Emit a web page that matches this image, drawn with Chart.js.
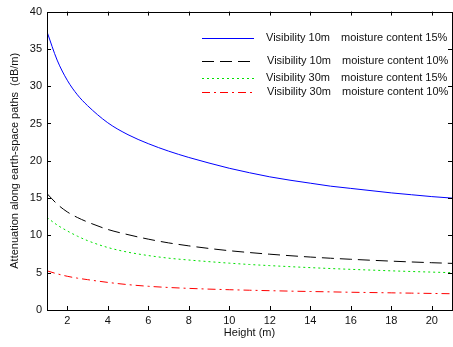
<!DOCTYPE html>
<html>
<head>
<meta charset="utf-8">
<script src="https://cdn.jsdelivr.net/npm/chart.js@4/dist/chart.umd.min.js"></script>
<style>
    html, body { margin: 0; padding: 0; background: #fff; }
    #chart { display: block; }
</style>
</head>
<body>
<canvas id="chart" width="453" height="347"></canvas>
<script>
// Data
var heights = [1, 1.5, 2, 2.5, 3, 4, 5, 6, 7, 8, 9, 10, 11, 12, 13, 14, 15, 16, 17, 18, 19, 20, 21];
var vis10Moist15 = [37.3, 33.5, 30.8, 28.85, 27.4, 25.1, 23.5, 22.3, 21.3, 20.45, 19.7, 19.0, 18.4, 17.85, 17.4, 17.0, 16.6, 16.3, 16.0, 15.7, 15.45, 15.2, 15.0];
var vis10Moist10 = [15.6, 14.2, 13.15, 12.4, 11.8, 10.8, 10.1, 9.5, 9.0, 8.6, 8.25, 7.95, 7.7, 7.48, 7.28, 7.1, 6.94, 6.8, 6.67, 6.55, 6.44, 6.34, 6.25];
var vis30Moist15 = [12.4, 11.4, 10.6, 9.9, 9.3, 8.38, 7.75, 7.3, 6.95, 6.7, 6.48, 6.28, 6.1, 5.95, 5.81, 5.68, 5.56, 5.45, 5.35, 5.25, 5.16, 5.08, 5.0];
var vis30Moist10 = [5.25, 4.85, 4.52, 4.27, 4.07, 3.7, 3.4, 3.18, 3.02, 2.9, 2.8, 2.72, 2.65, 2.59, 2.53, 2.48, 2.43, 2.38, 2.34, 2.3, 2.26, 2.22, 2.18];
var visibilityLabels = ['Visibility 10m', 'Visibility 10m', 'Visibility 30m', 'Visibility 30m'];
var moistureLabels = ['moisture content 15%', 'moisture content 10%', 'moisture content 15%', 'moisture content 10%'];
var xTicks = [2, 4, 6, 8, 10, 12, 14, 16, 18, 20];
var yTicks = [0, 5, 10, 15, 20, 25, 30, 35, 40];

var FONT = 'Liberation Sans, Arial, sans-serif';

function toPoints(values) {
    return values.map(function (v, i) { return { x: heights[i], y: v }; });
}

// Box, inward ticks and the legend, MATLAB style
var boxPlugin = {
    id: 'boxPlugin',
    afterDatasetsDraw: function (chart) {
        var ctx = chart.ctx;
        var a = chart.chartArea;
        var xs = chart.scales.x, ys = chart.scales.y;
        var len = 4;
        ctx.save();
        ctx.strokeStyle = '#000';
        ctx.lineWidth = 1;
        ctx.setLineDash([]);
        ctx.beginPath();
        xTicks.forEach(function (t) {
            var px = Math.round(xs.getPixelForValue(t)) + 0.5;
            ctx.moveTo(px, a.bottom); ctx.lineTo(px, a.bottom - len);
            ctx.moveTo(px, a.top); ctx.lineTo(px, a.top + len);
        });
        yTicks.forEach(function (t) {
            var py = Math.round(ys.getPixelForValue(t)) + 0.5;
            ctx.moveTo(a.left, py); ctx.lineTo(a.left + len, py);
            ctx.moveTo(a.right, py); ctx.lineTo(a.right - len, py);
        });
        ctx.stroke();
        ctx.strokeRect(Math.round(a.left) + 0.5, Math.round(a.top) + 0.5,
            Math.round(a.right - a.left), Math.round(a.bottom - a.top));

        // legend
        var rows = [38, 60.5, 78, 91.5];
        ctx.font = '11px ' + FONT;
        ctx.fillStyle = '#111';
        ctx.textBaseline = 'middle';
        chart.data.datasets.forEach(function (ds, i) {
            var y = Math.round(rows[i]) + 0.5;
            ctx.strokeStyle = ds.borderColor;
            ctx.setLineDash(ds.borderDash || []);
            ctx.beginPath();
            ctx.moveTo(202, y);
            ctx.lineTo(254, y);
            ctx.stroke();
            ctx.setLineDash([]);
            var off = (i === 0 || i === 2) ? 0 : 1;
            ctx.fillText(visibilityLabels[i], 266 + off, rows[i]);
            ctx.fillText(moistureLabels[i], 341 + off, rows[i]);
        });
        ctx.restore();
    }
};

var ctx = document.getElementById('chart').getContext('2d');
var myChart = new Chart(ctx, {
    type: 'line',
    data: {
        datasets: [
            { label: 'Visibility 10m moisture content 15%', data: toPoints(vis10Moist15), borderColor: '#0000ff', borderDash: [] },
            { label: 'Visibility 10m moisture content 10%', data: toPoints(vis10Moist10), borderColor: '#000000', borderDash: [12, 6] },
            { label: 'Visibility 30m moisture content 15%', data: toPoints(vis30Moist15), borderColor: '#00e000', borderDash: [2, 3] },
            { label: 'Visibility 30m moisture content 10%', data: toPoints(vis30Moist10), borderColor: '#ff0000', borderDash: [8, 4, 2, 4] }
        ]
    },
    options: {
        responsive: false,
        animation: false,
        layout: { padding: { top: 11, right: 1, left: 0, bottom: 0 } },
        elements: {
            point: { radius: 0 },
            line: { borderWidth: 1, cubicInterpolationMode: 'monotone', fill: false }
        },
        plugins: {
            legend: { display: false },
            tooltip: { enabled: false }
        },
        scales: {
            x: {
                type: 'linear',
                min: 1,
                max: 21,
                afterBuildTicks: function (scale) {
                    scale.ticks = xTicks.map(function (v) { return { value: v }; });
                },
                afterFit: function (scale) { scale.height = 37; },
                grid: { display: false, drawTicks: false },
                border: { display: false },
                ticks: { padding: 4, color: '#111', font: { family: FONT, size: 11 }, maxRotation: 0 },
                title: {
                    display: true,
                    text: 'Height (m)',
                    color: '#111',
                    font: { family: FONT, size: 11 },
                    padding: { top: 0, bottom: 7 }
                }
            },
            y: {
                min: 0,
                max: 40,
                afterBuildTicks: function (scale) {
                    scale.ticks = yTicks.map(function (v) { return { value: v }; });
                },
                afterFit: function (scale) { scale.width = 47; },
                grid: { display: false, drawTicks: false },
                border: { display: false },
                ticks: { padding: 5, color: '#111', font: { family: FONT, size: 11 } },
                title: {
                    display: true,
                    text: 'Attenuation along earth-space paths  (dB/m)',
                    color: '#111',
                    font: { family: FONT, size: 11 },
                    padding: { top: 8, bottom: 0 }
                }
            }
        }
    },
    plugins: [boxPlugin]
});
</script>
</body>
</html>
